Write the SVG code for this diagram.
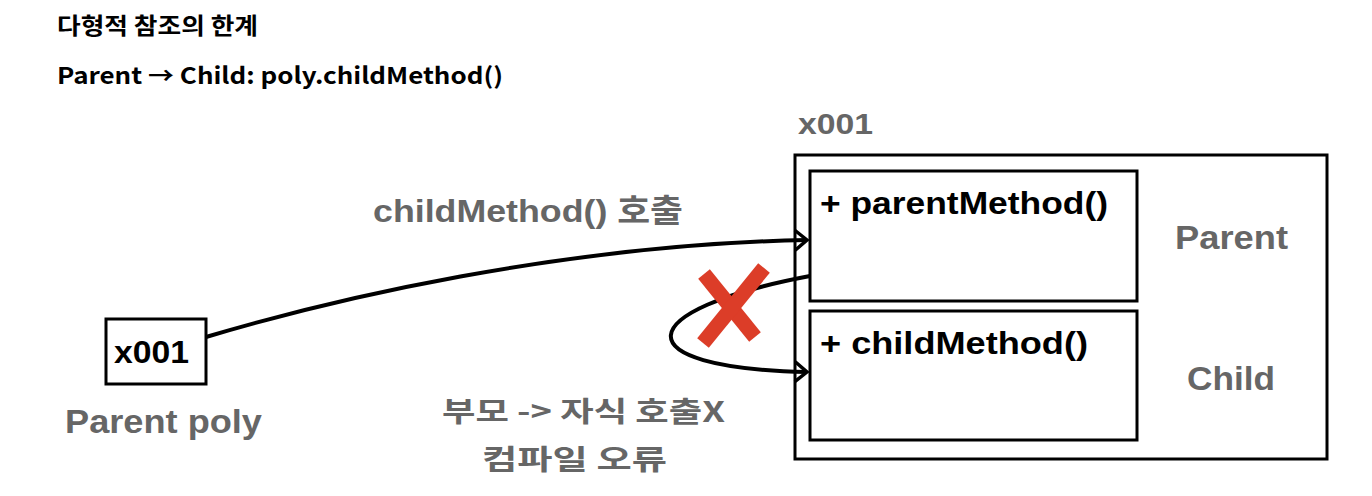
<svg xmlns="http://www.w3.org/2000/svg" width="1372" height="496" viewBox="0 0 1372 496">
<style>
.title{font-family:"Noto Sans CJK KR","Liberation Sans",sans-serif;font-weight:bold;fill:#000;}
.lbl{font-family:"Liberation Sans","Noto Sans CJK KR",sans-serif;font-weight:bold;}
.gray{fill:#666666;}
.blk{fill:#000;}
.kr{font-family:"Noto Sans CJK KR",sans-serif;font-weight:bold;fill:#666666;}
.box{fill:#fff;stroke:#000;stroke-width:3;}
.edge{fill:none;stroke:#000;stroke-width:4;}
.cross{stroke:#dc3d28;stroke-width:15;stroke-linecap:butt;}
</style>
<defs>
<marker id="arr" markerUnits="userSpaceOnUse" markerWidth="20" markerHeight="24" refX="14" refY="12" orient="auto">
<path d="M2,2 L14,12 L2,22" fill="none" stroke="#000" stroke-width="3.5"/>
</marker>
</defs>
<rect width="1372" height="496" fill="#fff"/>
<g id="titles">
<text class="title" x="57" y="34" font-size="23" textLength="201" lengthAdjust="spacingAndGlyphs">다형적 참조의 한계</text>
<text class="title" x="57" y="84" font-size="23" textLength="446" lengthAdjust="spacingAndGlyphs">Parent → Child: poly.childMethod()</text>
</g>
<g id="instance">
<text class="lbl gray" x="798" y="134" font-size="30" textLength="75" lengthAdjust="spacingAndGlyphs">x001</text>
<rect class="box" x="795" y="155" width="532" height="304"/>
<text class="lbl gray" x="1175" y="249" font-size="33" textLength="113" lengthAdjust="spacingAndGlyphs">Parent</text>
<text class="lbl gray" x="1187" y="390" font-size="33" textLength="88" lengthAdjust="spacingAndGlyphs">Child</text>
</g>
<g id="parentMethodBox">
<rect class="box" x="810" y="171" width="327" height="130"/>
<text class="lbl blk" x="820" y="214" font-size="31" textLength="288" lengthAdjust="spacingAndGlyphs">+ parentMethod()</text>
</g>
<g id="childMethodBox">
<rect class="box" x="810" y="311" width="327" height="129"/>
<text class="lbl blk" x="820" y="354" font-size="31" textLength="268" lengthAdjust="spacingAndGlyphs">+ childMethod()</text>
</g>
<g id="polyVar">
<rect class="box" x="106" y="319" width="100" height="65" stroke-width="2.5"/>
<text class="lbl blk" x="114" y="363" font-size="31" textLength="75" lengthAdjust="spacingAndGlyphs">x001</text>
<text class="lbl gray" x="65" y="433" font-size="33" textLength="197" lengthAdjust="spacingAndGlyphs">Parent poly</text>
</g>
<g id="connectors">
<path class="edge" d="M206,337 C330,300 560,245 807,240" marker-end="url(#arr)"/>
<path class="edge" d="M810,276 C630,310 620,368 807,372" marker-end="url(#arr)"/>
<text class="lbl gray" x="373" y="222" font-size="32" textLength="310" lengthAdjust="spacingAndGlyphs">childMethod() 호출</text>
<text class="kr" x="442" y="422" font-size="28" textLength="283" lengthAdjust="spacingAndGlyphs">부모 -&gt; 자식 호출X</text>
<text class="kr" x="482" y="470" font-size="28" textLength="185" lengthAdjust="spacingAndGlyphs">컴파일 오류</text>
</g>
<g id="errorMark">
<line class="cross" x1="704" y1="274" x2="755" y2="337"/>
<line class="cross" x1="764" y1="268" x2="703" y2="343"/>
</g>
</svg>
